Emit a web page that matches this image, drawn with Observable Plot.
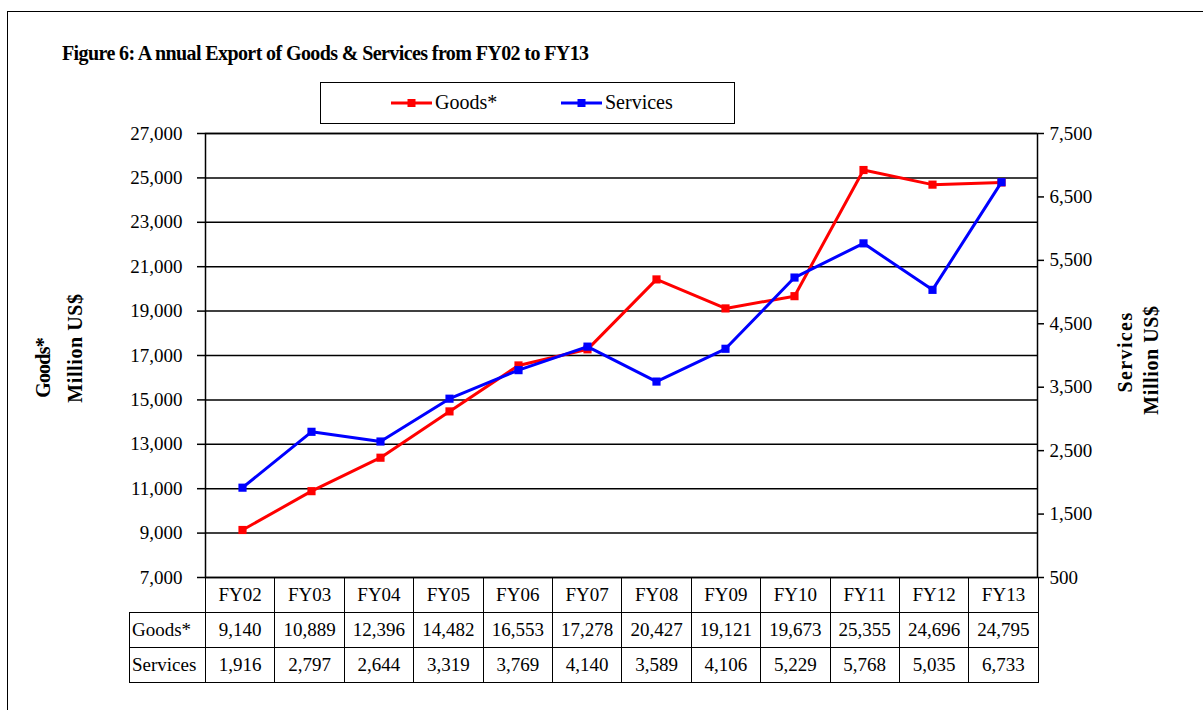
<!DOCTYPE html>
<html>
<head>
<meta charset="utf-8">
<script src="https://cdn.jsdelivr.net/npm/d3@7"></script>
<script src="https://cdn.jsdelivr.net/npm/@observablehq/plot@0.6"></script>
<style>
  body { margin: 0; background: #fff; }
  #wrap { position: relative; width: 1203px; height: 710px; overflow: hidden; font-family: "Liberation Serif", "Times New Roman", serif; color: #000; }
  #frame { position: absolute; left: 7px; top: 11px; width: 1300px; height: 800px; border: 1.5px solid #000; }
  #title { position: absolute; left: 62px; top: 42px; font-weight: bold; font-size: 20px; letter-spacing: -0.6px; white-space: nowrap; }
  #legend { position: absolute; left: 320px; top: 82px; width: 413px; height: 40px; border: 1.5px solid #000; }
  .lg { position: absolute; top: 8px; font-size: 20px; white-space: nowrap; display: flex; align-items: center; }
  .lab { position: absolute; font-weight: bold; font-size: 20px; white-space: nowrap; transform: translate(-50%, -50%) rotate(-90deg); }
  #chart { position: absolute; left: 0; top: 0; }
  table { position: absolute; left: 129px; top: 577px; border-collapse: collapse; table-layout: fixed; width: 909px; font-size: 19px; }
  td { border: 1.5px solid #000; height: 34px; padding: 0; text-align: center; }
  td.rl { text-align: left; padding-left: 2px; }
  td.blank { border: none; border-right: 1.5px solid #000; }
</style>
</head>
<body>
<div id="wrap">
  <div id="frame"></div>
  <div id="title">Figure 6: A nnual Export of Goods &amp; Services from FY02 to FY13</div>
  <div id="legend"></div>
  <div id="chart"></div>
  <div class="lab" style="left:43px; top:368px; letter-spacing:-0.8px;">Goods*</div>
  <div class="lab" style="left:75px; top:348px; letter-spacing:0.6px;">Million US$</div>
  <div class="lab" style="left:1125px; top:352px; letter-spacing:1.4px;">Services</div>
  <div class="lab" style="left:1151px; top:360px; letter-spacing:0.6px;">Million US$</div>
  <table id="tbl"></table>
</div>
<script>
const years = ["FY02","FY03","FY04","FY05","FY06","FY07","FY08","FY09","FY10","FY11","FY12","FY13"];
const goods = [9140, 10889, 12396, 14482, 16553, 17278, 20427, 19121, 19673, 25355, 24696, 24795];
const services = [1916, 2797, 2644, 3319, 3769, 4140, 3589, 4106, 5229, 5768, 5035, 6733];
const leftTicks = [7000, 9000, 11000, 13000, 15000, 17000, 19000, 21000, 23000, 25000, 27000];
const rightTicks = [500, 1500, 2500, 3500, 4500, 5500, 6500, 7500];
const leftDomain = [7000, 27000];
const rightDomain = [500, 7500];
const seriesNames = ["Goods*", "Services"];
const seriesColors = ["#ff0000", "#0000ff"];

// map services (right axis) into the left-axis value space
const toLeft = v => leftDomain[0] + (v - rightDomain[0]) * (leftDomain[1] - leftDomain[0]) / (rightDomain[1] - rightDomain[0]);
const toRight = v => rightDomain[0] + (v - leftDomain[0]) * (rightDomain[1] - rightDomain[0]) / (leftDomain[1] - leftDomain[0]);
const fmt = d3.format(",");

const gData = years.map((y, i) => ({year: y, value: goods[i]}));
const sData = years.map((y, i) => ({year: y, value: toLeft(services[i])}));
const halfStep = 832 / years.length / 2;

const chart = Plot.plot({
  width: 1203,
  height: 710,
  marginLeft: 205,
  marginRight: 166,
  marginTop: 133,
  marginBottom: 133,
  style: {fontFamily: "Liberation Serif, Times New Roman, serif", fontSize: "19px", color: "#000", background: "transparent", overflow: "visible"},
  x: {type: "point", domain: years, padding: 0.5, axis: null},
  y: {domain: leftDomain, axis: null},
  marks: [
    Plot.ruleY(leftTicks, {stroke: "#000", strokeWidth: 1.5}),
    Plot.axisY({ticks: leftTicks, tickFormat: fmt, tickSize: 8, tickPadding: 15, label: null, stroke: "#000", strokeWidth: 1.5, fill: "#000"}),
    Plot.axisY(rightTicks.map(toLeft), {anchor: "right", tickFormat: d => fmt(Math.round(toRight(d))), tickSize: 6, tickPadding: 6, label: null, stroke: "#000", strokeWidth: 1.5, fill: "#000"}),
    Plot.ruleY(rightTicks.map(toLeft), {x1: years[years.length - 1], x2: years[years.length - 1], dx: halfStep, insetLeft: -5, stroke: "#000", strokeWidth: 1.5}),
    Plot.frame({stroke: "#000", strokeWidth: 1.5}),
    Plot.line(gData, {x: "year", y: "value", stroke: seriesColors[0], strokeWidth: 3}),
    Plot.dot(gData, {x: "year", y: "value", symbol: "square", r: 4.6, fill: seriesColors[0], stroke: "none"}),
    Plot.line(sData, {x: "year", y: "value", stroke: seriesColors[1], strokeWidth: 3}),
    Plot.dot(sData, {x: "year", y: "value", symbol: "square", r: 4.6, fill: seriesColors[1], stroke: "none"})
  ]
});
document.getElementById("chart").appendChild(chart);

// legend
const legend = document.getElementById("legend");
const legendX = [70, 240];
seriesNames.forEach((name, i) => {
  const item = document.createElement("div");
  item.className = "lg";
  item.style.left = legendX[i] + "px";
  item.innerHTML = `<svg width="41" height="12" style="margin-right:3px"><line x1="0" y1="6" x2="41" y2="6" stroke="${seriesColors[i]}" stroke-width="3"/><rect x="16.5" y="2" width="8" height="8" fill="${seriesColors[i]}"/></svg><span>${name}</span>`;
  legend.appendChild(item);
});

// data table
const tbl = document.getElementById("tbl");
const colg = document.createElement("colgroup");
colg.innerHTML = `<col style="width:76px">` + years.map(() => `<col style="width:69.4px">`).join("");
tbl.appendChild(colg);
const head = document.createElement("tr");
head.innerHTML = `<td class="blank"></td>` + years.map(y => `<td>${y}</td>`).join("");
tbl.appendChild(head);
[goods, services].forEach((arr, i) => {
  const tr = document.createElement("tr");
  tr.innerHTML = `<td class="rl">${seriesNames[i]}</td>` + arr.map(v => `<td>${fmt(v)}</td>`).join("");
  tbl.appendChild(tr);
});
</script>
</body>
</html>
